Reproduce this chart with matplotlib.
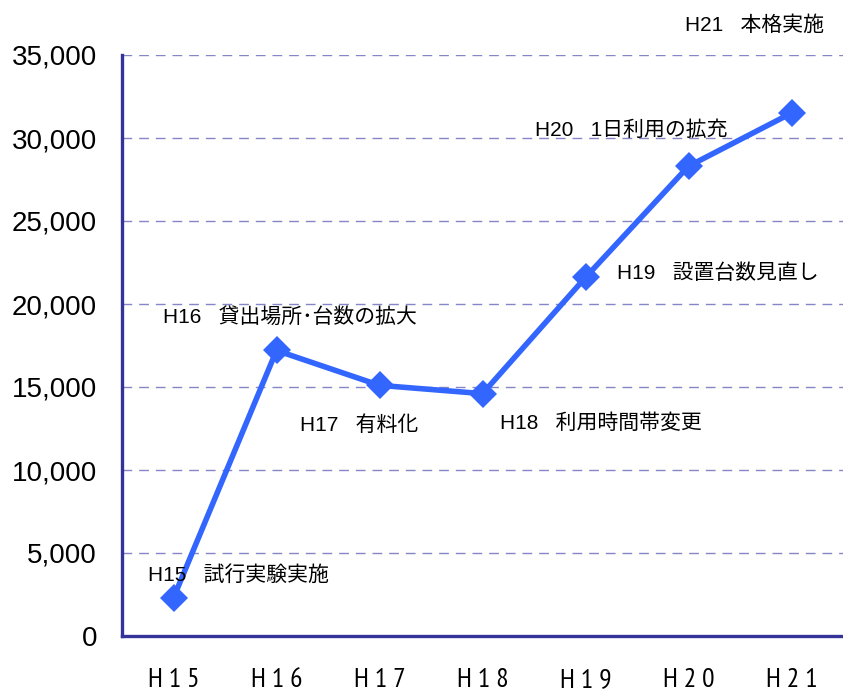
import numpy as np
import matplotlib.pyplot as plt
from matplotlib import font_manager as fm

# data
years = ["H 1 5", "H 1 6", "H 1 7", "H 1 8", "H 1 9", "H 2 0", "H 2 1"]
users = [2300, 17200, 15100, 14600, 21600, 28300, 31500]
yticks = [0, 5000, 10000, 15000, 20000, 25000, 30000, 35000]

notes = [
    "H15   試行実験実施",
    "H16   貸出場所･台数の拡大",
    "H17   有料化",
    "H18   利用時間帯変更",
    "H19   設置台数見直し",
    "H20   1日利用の拡充",
    "H21   本格実施",
]
note_x = [0.25, 0.40, 1.73, 3.67, 4.81, 4.01, 5.47]
note_y = [3675, 19200, 12700, 12830, 21870, 30480, 36800]

jp = ["Liberation Sans", "Noto Sans CJK JP"]

# narrow font for the year labels, if one is around
have = {f.name for f in fm.fontManager.ttflist}
narrow = "Liberation Sans"
for cand in ["Liberation Sans Narrow", "Arial Narrow", "PT Sans Narrow",
             "Archivo Narrow", "Roboto Condensed", "Open Sans Condensed"]:
    if cand in have:
        narrow = cand
        break

fig = plt.figure(figsize=(8.43, 6.93), dpi=100)
ax = fig.add_axes([122 / 843, 57 / 693, 721 / 843, 581 / 693])

x = np.arange(len(years)) + 0.5
ax.plot(x, users, color="#3366FF", lw=4, marker="D", ms=14,
        markeredgewidth=0, zorder=3, clip_on=False)

ax.set_xlim(0, len(years))
ax.set_ylim(0, 35000)
ax.set_yticks(yticks)
ax.set_yticklabels([f"{v:,}" for v in yticks], fontsize=20,
                   family="Liberation Sans")
ax.set_xticks(x)
ax.set_xticklabels(years, fontsize=20, family=narrow)
ax.tick_params(length=0)
ax.tick_params(axis="y", pad=18)
ax.tick_params(axis="x", pad=23)

for s in ["top", "right"]:
    ax.spines[s].set_visible(False)
for s in ["left", "bottom"]:
    ax.spines[s].set_color("#333399")
    ax.spines[s].set_linewidth(2.4)

ax.grid(axis="y", color="#8585C8", lw=1, linestyle=(0, (7, 5)))
ax.set_axisbelow(True)

for t, tx, ty in zip(notes, note_x, note_y):
    ax.text(tx, ty, t, fontsize=15, family=jp, va="center", ha="left",
            clip_on=False, zorder=4)

fig.savefig("out.png", dpi=100)
